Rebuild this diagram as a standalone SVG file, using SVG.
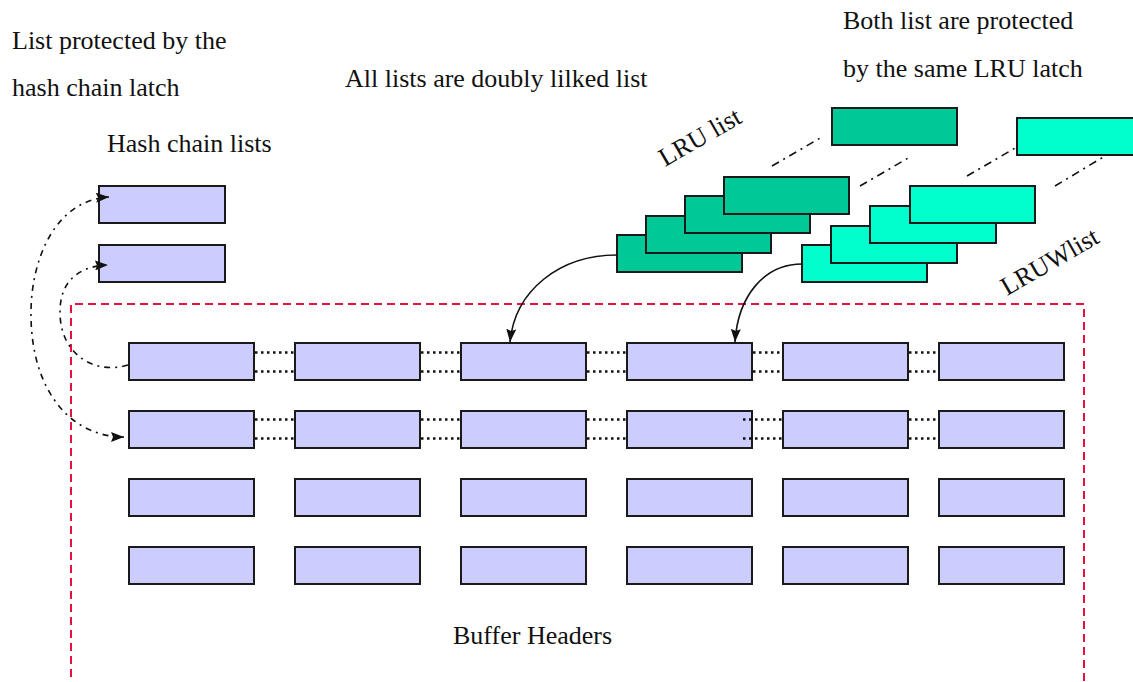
<svg xmlns="http://www.w3.org/2000/svg" width="1133" height="682" viewBox="0 0 1133 682">
  <style>
    .txt { font-family: "Liberation Serif", "Times New Roman", serif; font-size: 26px; fill: #111; }
    .bh { fill: #CCCCFF; stroke: #1a1a1a; stroke-width: 2; }
    .lru { fill: #00C896; stroke: #1a1a1a; stroke-width: 2; }
    .lruw { fill: #00FFCC; stroke: #1a1a1a; stroke-width: 2; }
    .dot { fill: none; stroke: #111; stroke-width: 2.5; stroke-dasharray: 2.5 3.5; }
    .dashdot { fill: none; stroke: #111; stroke-width: 1.6; stroke-dasharray: 8 5 2 5; }
    .hashlink { fill: none; stroke: #111; stroke-width: 1.6; stroke-dasharray: 6 5 2 5; }
    .curve { fill: none; stroke: #111; stroke-width: 1.6; }
    .zone { fill: none; stroke: #E8103C; stroke-width: 2; stroke-dasharray: 8 5; }
  </style>
  <defs>
    <marker id="arrow" viewBox="0 0 13 10" refX="13" refY="5" markerWidth="13" markerHeight="10" markerUnits="userSpaceOnUse" orient="auto-start-reverse">
      <path d="M0,0 L13,5 L0,10 L2,5 Z" fill="#111"/>
    </marker>
  </defs>

  <rect width="1133" height="682" fill="#fff"/>

  <!-- labels -->
  <g id="labels">
    <text class="txt" x="12" y="49">List protected by the</text>
    <text class="txt" x="12" y="96">hash chain latch</text>
    <text class="txt" x="107" y="152">Hash chain lists</text>
    <text class="txt" x="345" y="87">All lists are doubly lilked list</text>
    <text class="txt" x="843" y="29">Both list are protected</text>
    <text class="txt" x="843" y="77">by the same LRU latch</text>
    <text class="txt" x="665" y="167" transform="rotate(-30 665 167)">LRU list</text>
    <text class="txt" x="1007" y="296" transform="rotate(-30 1007 296)">LRUWlist</text>
    <text class="txt" x="453" y="644">Buffer Headers</text>
  </g>

  <!-- buffer header area -->
  <g id="buffer-area">
    <path class="zone" d="M71,690 L71,304 L1084,304 L1084,690"/>
  </g>

  <!-- hash chain heads -->
  <g id="hash-chain-1"><rect class="bh" x="99" y="186" width="126" height="37"/></g>
  <g id="hash-chain-2"><rect class="bh" x="99" y="245" width="126" height="37"/></g>

  <!-- LRU list -->
  <g id="lru-tail"><rect class="lru" x="832" y="108" width="125" height="37"/></g>
  <g id="lru-1"><rect class="lru" x="617" y="235" width="125" height="37"/></g>
  <g id="lru-2"><rect class="lru" x="646" y="216" width="125" height="37"/></g>
  <g id="lru-3"><rect class="lru" x="685" y="196" width="125" height="37"/></g>
  <g id="lru-4"><rect class="lru" x="724" y="177" width="125" height="37"/></g>

  <!-- LRUW list -->
  <g id="lruw-tail"><rect class="lruw" x="1017" y="118" width="126" height="37"/></g>
  <g id="lruw-1"><rect class="lruw" x="802" y="245" width="125" height="37"/></g>
  <g id="lruw-2"><rect class="lruw" x="831" y="226" width="126" height="37"/></g>
  <g id="lruw-3"><rect class="lruw" x="870" y="206" width="126" height="37"/></g>
  <g id="lruw-4"><rect class="lruw" x="910" y="186" width="125" height="37"/></g>

  <!-- buffer headers: 4 rows x 6 columns -->
  <g id="bh-r1c1"><rect class="bh" x="129" y="343" width="125" height="37"/></g>
  <g id="bh-r1c2"><rect class="bh" x="295" y="343" width="125" height="37"/></g>
  <g id="bh-r1c3"><rect class="bh" x="461" y="343" width="125" height="37"/></g>
  <g id="bh-r1c4"><rect class="bh" x="627" y="343" width="125" height="37"/></g>
  <g id="bh-r1c5"><rect class="bh" x="783" y="343" width="125" height="37"/></g>
  <g id="bh-r1c6"><rect class="bh" x="939" y="343" width="125" height="37"/></g>

  <g id="bh-r2c1"><rect class="bh" x="129" y="411" width="125" height="37"/></g>
  <g id="bh-r2c2"><rect class="bh" x="295" y="411" width="125" height="37"/></g>
  <g id="bh-r2c3"><rect class="bh" x="461" y="411" width="125" height="37"/></g>
  <g id="bh-r2c4"><rect class="bh" x="627" y="411" width="125" height="37"/></g>
  <g id="bh-r2c5"><rect class="bh" x="783" y="411" width="125" height="37"/></g>
  <g id="bh-r2c6"><rect class="bh" x="939" y="411" width="125" height="37"/></g>

  <g id="bh-r3c1"><rect class="bh" x="129" y="479" width="125" height="37"/></g>
  <g id="bh-r3c2"><rect class="bh" x="295" y="479" width="125" height="37"/></g>
  <g id="bh-r3c3"><rect class="bh" x="461" y="479" width="125" height="37"/></g>
  <g id="bh-r3c4"><rect class="bh" x="627" y="479" width="125" height="37"/></g>
  <g id="bh-r3c5"><rect class="bh" x="783" y="479" width="125" height="37"/></g>
  <g id="bh-r3c6"><rect class="bh" x="939" y="479" width="125" height="37"/></g>

  <g id="bh-r4c1"><rect class="bh" x="129" y="547" width="125" height="37"/></g>
  <g id="bh-r4c2"><rect class="bh" x="295" y="547" width="125" height="37"/></g>
  <g id="bh-r4c3"><rect class="bh" x="461" y="547" width="125" height="37"/></g>
  <g id="bh-r4c4"><rect class="bh" x="627" y="547" width="125" height="37"/></g>
  <g id="bh-r4c5"><rect class="bh" x="783" y="547" width="125" height="37"/></g>
  <g id="bh-r4c6"><rect class="bh" x="939" y="547" width="125" height="37"/></g>

  <!-- connectors -->
  <g id="connectors">
    <!-- doubly linked forward/backward pointers, row 1 -->
    <path class="dot" d="M255,352.5 H294 M255,371.5 H294"/>
    <path class="dot" d="M421,352.5 H460 M421,371.5 H460"/>
    <path class="dot" d="M587,352.5 H626 M587,371.5 H626"/>
    <path class="dot" d="M753,352.5 H782 M753,371.5 H782"/>
    <path class="dot" d="M909,352.5 H938 M909,371.5 H938"/>
    <!-- row 2 -->
    <path class="dot" d="M255,419.5 H294 M255,438.5 H294"/>
    <path class="dot" d="M421,419.5 H460 M421,438.5 H460"/>
    <path class="dot" d="M587,419.5 H626 M587,438.5 H626"/>
    <path class="dot" d="M743,419.5 H782 M743,438.5 H782"/>
    <path class="dot" d="M909,419.5 H938 M909,438.5 H938"/>

    <!-- hash chain links -->
    <path class="hashlink" d="M109,197 C55,200 30,260 31,317 C32,390 70,437 124,437" marker-start="url(#arrow)" marker-end="url(#arrow)"/>
    <path class="hashlink" d="M128,365 C95,375 60,355 60,312 C60,280 80,266 108,265" marker-end="url(#arrow)"/>

    <!-- list continuation -->
    <path class="dashdot" d="M772,166 L822,137"/>
    <path class="dashdot" d="M860,186 L910,157"/>
    <path class="dashdot" d="M967,176 L1017,147"/>
    <path class="dashdot" d="M1055,186 L1105,156"/>

    <!-- list heads into buffer headers -->
    <path class="curve" d="M617,255 C560,255 515,290 510,342" marker-end="url(#arrow)"/>
    <path class="curve" d="M802,264 C765,264 738,295 735,342" marker-end="url(#arrow)"/>
  </g>
</svg>
